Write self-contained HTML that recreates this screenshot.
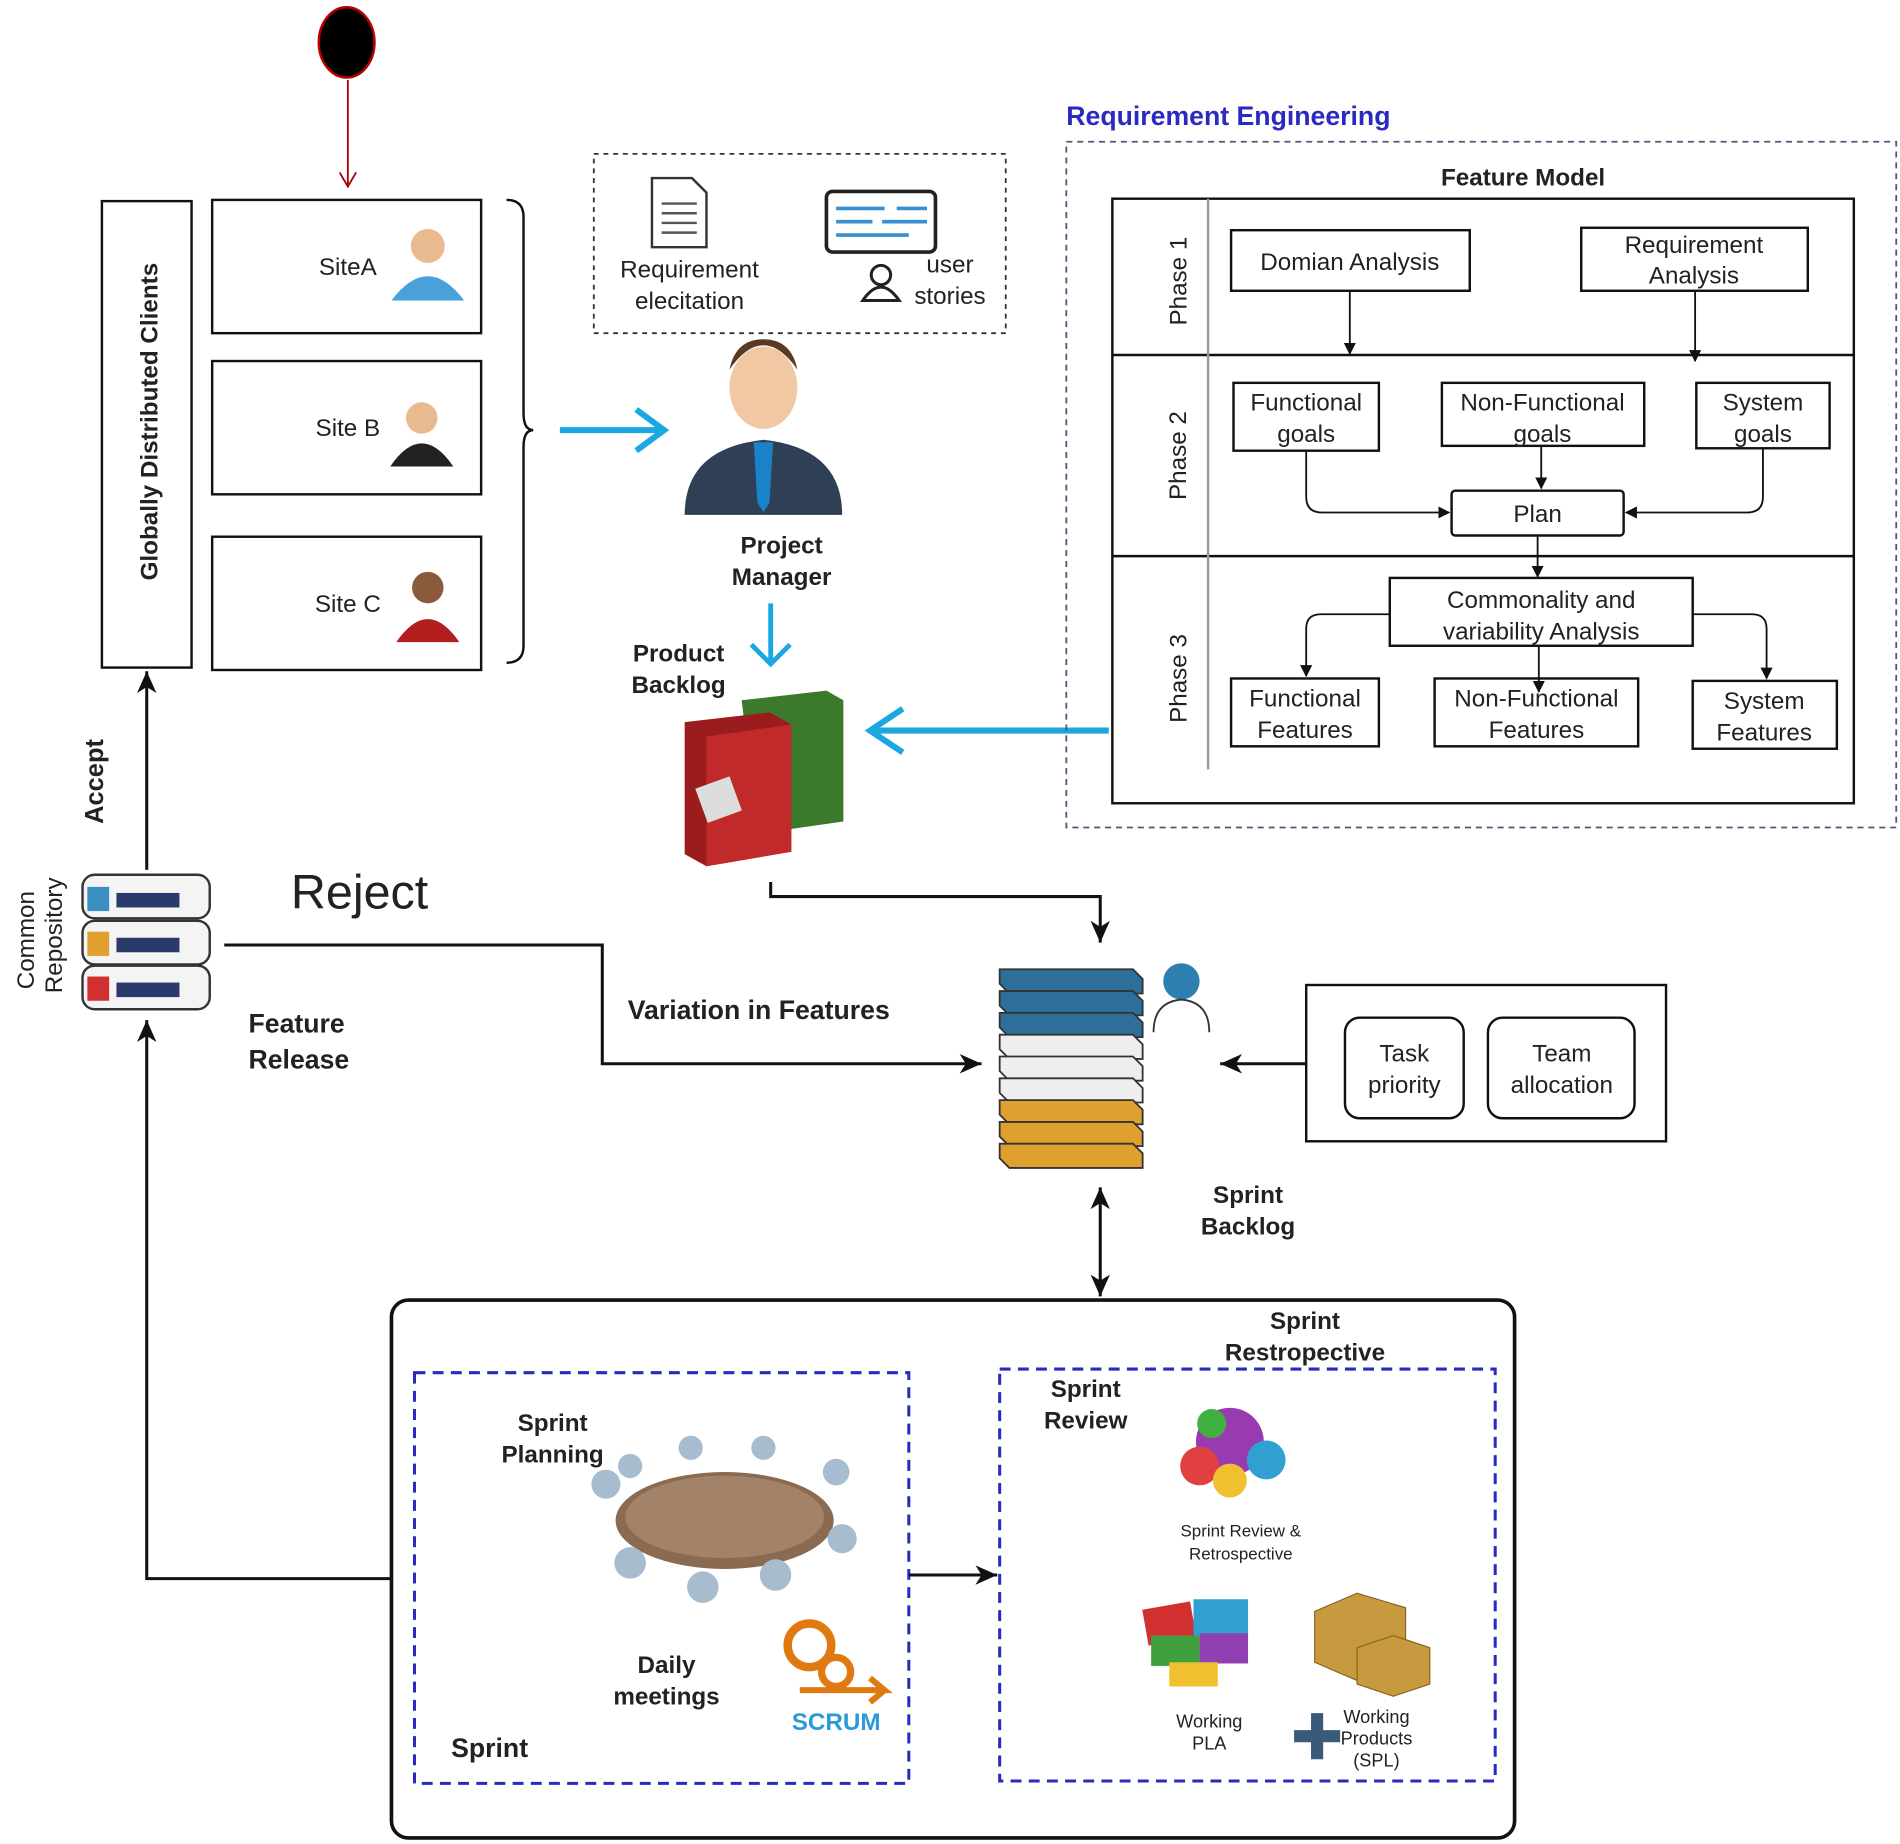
<!DOCTYPE html>
<html><head><meta charset="utf-8"><style>
html,body{margin:0;padding:0;background:#fff}
svg{display:block}
text{font-family:"Liberation Sans",Arial,sans-serif;fill:#222}
.b{font-weight:bold}
</style></head><body>
<svg width="1900" height="1844" viewBox="0 0 1568 1522" xmlns="http://www.w3.org/2000/svg">
<defs>
<marker id="a" markerWidth="10" markerHeight="10" refX="9" refY="5" orient="auto" markerUnits="userSpaceOnUse"><path d="M0,0 L10,5 L0,10 z" fill="#111"/></marker>
<marker id="a2" markerWidth="20" markerHeight="20" refX="18" refY="10" orient="auto-start-reverse" markerUnits="userSpaceOnUse"><path d="M0,2 L18,10 L0,18 L5,10z" fill="#111"/></marker>
<marker id="r" markerWidth="14" markerHeight="14" refX="12" refY="7" orient="auto" markerUnits="userSpaceOnUse"><path d="M0,0 L12,7 L0,14" fill="none" stroke="#a00" stroke-width="1.5"/></marker>
</defs>
<!-- start -->
<ellipse cx="286" cy="35" rx="23" ry="29" fill="#000" stroke="#b00" stroke-width="2"/>
<line x1="287" y1="66" x2="287" y2="154" stroke="#a00" stroke-width="1.5" marker-end="url(#r)"/>
<!-- clients -->
<rect x="84" y="166" width="74" height="385" fill="none" stroke="#111" stroke-width="2"/>
<text class="b" font-size="20" transform="translate(130,348) rotate(-90)" text-anchor="middle">Globally Distributed Clients</text>
<g fill="none" stroke="#111" stroke-width="2">
<rect x="175" y="165" width="222" height="110"/><rect x="175" y="298" width="222" height="110"/><rect x="175" y="443" width="222" height="110"/>
<path d="M418,165 q14,0 14,14 v162 q0,14 8,14 q-8,0 -8,14 v164 q0,14 -14,14"/>
</g>
<text x="287" y="227" font-size="20" text-anchor="middle">SiteA</text>
<text x="287" y="360" font-size="20" text-anchor="middle">Site B</text>
<text x="287" y="505" font-size="20" text-anchor="middle">Site C</text>
<g><circle cx="353" cy="203" r="14" fill="#e9b98f"/><path d="M323,248 q30,-40 60,0z" fill="#4aa0d8"/><circle cx="348" cy="345" r="13" fill="#e9b98f"/><path d="M322,385 q26,-38 52,0z" fill="#222"/><circle cx="353" cy="485" r="13" fill="#8b5a3c"/><path d="M327,530 q26,-38 52,0z" fill="#b21e1e"/></g>
<!-- blue arrow -->
<path d="M462,355 H545 M525,338 L548,355 L525,372" stroke="#1ba7e0" stroke-width="5" fill="none"/>
<!-- req dashed -->
<rect x="490" y="127" width="340" height="148" fill="none" stroke="#333" stroke-width="1.5" stroke-dasharray="4,4"/>
<path d="M538,147 h33 l12,12 v45 h-45z" fill="#fff" stroke="#333" stroke-width="2"/>
<g stroke="#555" stroke-width="2"><line x1="546" y1="168" x2="575" y2="168"/><line x1="546" y1="176" x2="575" y2="176"/><line x1="546" y1="184" x2="575" y2="184"/><line x1="546" y1="192" x2="575" y2="192"/></g>
<text x="569" y="229" font-size="20" text-anchor="middle">Requirement</text><text x="569" y="255" font-size="20" text-anchor="middle">elecitation</text>
<rect x="682" y="158" width="90" height="50" rx="5" fill="#fff" stroke="#222" stroke-width="3"/>
<g stroke="#3a8fd0" stroke-width="3"><line x1="690" y1="172" x2="730" y2="172"/><line x1="740" y1="172" x2="765" y2="172"/><line x1="690" y1="183" x2="720" y2="183"/><line x1="728" y1="183" x2="765" y2="183"/><line x1="690" y1="194" x2="750" y2="194"/></g>
<circle cx="727" cy="227" r="8" fill="none" stroke="#222" stroke-width="2.5"/><path d="M712,248 q15,-22 30,0z" fill="none" stroke="#222" stroke-width="2.5"/>
<text x="784" y="225" font-size="20" text-anchor="middle">user</text><text x="784" y="251" font-size="20" text-anchor="middle">stories</text>
<!-- PM -->
<ellipse cx="630" cy="320" rx="28" ry="34" fill="#f2c7a4"/><path d="M602,305 q28,-40 56,0 q-5,-25 -28,-25 q-23,0 -28,25z" fill="#5a3a22"/>
<path d="M565,425 q0,-55 65,-62 q65,7 65,62z" fill="#2f3f55"/><path d="M622,365 h16 l-3,50 l-5,8 l-5,-8z" fill="#1a82c8"/>
<text class="b" x="645" y="457" font-size="20" text-anchor="middle">Project</text><text class="b" x="645" y="483" font-size="20" text-anchor="middle">Manager</text>
<path d="M636,498 V546 M620,532 L636,548 L652,532" stroke="#1ba7e0" stroke-width="4" fill="none"/>
<text class="b" x="560" y="546" font-size="20" text-anchor="middle">Product</text><text class="b" x="560" y="572" font-size="20" text-anchor="middle">Backlog</text>
<path d="M612,578 l70,-8 l14,8 v100 l-70,10z" fill="#3a7a2a"/><path d="M565,596 l70,-8 l18,10 v105 l-70,12 l-18,-10z" fill="#9b1c1c"/><path d="M583,608 l70,-10 v105 l-70,12z" fill="#c02a2a"/>
<rect x="578" y="645" width="30" height="30" fill="#ddd" transform="rotate(-20 593 660)"/>
<path d="M915,603 H722 M745,585 L718,603 L745,621" stroke="#1ba7e0" stroke-width="5" fill="none"/>
<!-- Req Eng -->
<text class="b" x="880" y="103" font-size="22" fill="#2a2ac0" style="fill:#2a2ac0">Requirement Engineering</text>
<rect x="880" y="117" width="685" height="566" fill="none" stroke="#557" stroke-width="1.5" stroke-dasharray="5,4"/>
<text class="b" x="1257" y="153" font-size="20" text-anchor="middle">Feature Model</text>
<rect x="918" y="164" width="612" height="499" fill="none" stroke="#111" stroke-width="2"/>
<line x1="918" y1="293" x2="1530" y2="293" stroke="#111" stroke-width="2"/><line x1="918" y1="459" x2="1530" y2="459" stroke="#111" stroke-width="2"/>
<line x1="997" y1="164" x2="997" y2="635" stroke="#999" stroke-width="2"/>
<text x="972" y="232" font-size="20" text-anchor="middle" transform="rotate(-90 972 232)" dy="7">Phase 1</text>
<text x="972" y="376" font-size="20" text-anchor="middle" transform="rotate(-90 972 376)" dy="7">Phase 2</text>
<text x="972" y="560" font-size="20" text-anchor="middle" transform="rotate(-90 972 560)" dy="7">Phase 3</text>
<g fill="#fff" stroke="#111" stroke-width="2">
<rect x="1016" y="190" width="197" height="50"/><rect x="1305" y="188" width="187" height="52"/>
<rect x="1018" y="316" width="120" height="56"/><rect x="1190" y="316" width="167" height="52"/><rect x="1400" y="316" width="110" height="54"/>
<rect x="1198" y="405" width="142" height="37" rx="3"/>
<rect x="1147" y="477" width="250" height="56"/>
<rect x="1016" y="560" width="122" height="56"/><rect x="1184" y="560" width="168" height="56"/><rect x="1397" y="562" width="119" height="56"/>
</g>
<g font-size="20" text-anchor="middle">
<text x="1114" y="223">Domian Analysis</text><text x="1398" y="209">Requirement</text><text x="1398" y="234">Analysis</text>
<text x="1078" y="339">Functional</text><text x="1078" y="365">goals</text>
<text x="1273" y="339">Non-Functional</text><text x="1273" y="365">goals</text>
<text x="1455" y="339">System</text><text x="1455" y="365">goals</text>
<text x="1269" y="431">Plan</text>
<text x="1272" y="502">Commonality and</text><text x="1272" y="528">variability Analysis</text>
<text x="1077" y="583">Functional</text><text x="1077" y="609">Features</text>
<text x="1268" y="583">Non-Functional</text><text x="1268" y="609">Features</text>
<text x="1456" y="585">System</text><text x="1456" y="611">Features</text>
</g>
<g fill="none" stroke="#111" stroke-width="1.5" marker-end="url(#a)">
<line x1="1114" y1="240" x2="1114" y2="292"/><line x1="1399" y1="240" x2="1399" y2="298"/>
<path d="M1078,372 V410 q0,13 13,13 H1196"/><path d="M1455,370 V410 q0,13 -13,13 H1342"/>
<line x1="1272" y1="368" x2="1272" y2="403"/><line x1="1269" y1="442" x2="1269" y2="476"/>
<path d="M1147,507 H1090 q-12,0 -12,12 V558"/><path d="M1397,507 H1446 q12,0 12,12 V560"/><line x1="1270" y1="533" x2="1270" y2="571"/>
</g>
<!-- common repo -->
<g>
<rect x="68" y="722" width="105" height="36" rx="10" fill="#f4f4f4" stroke="#333" stroke-width="2"/><rect x="68" y="760" width="105" height="36" rx="10" fill="#f4f4f4" stroke="#333" stroke-width="2"/><rect x="68" y="797" width="105" height="36" rx="10" fill="#f4f4f4" stroke="#333" stroke-width="2"/>
<rect x="72" y="732" width="18" height="20" fill="#3a8fc0"/><rect x="72" y="769" width="18" height="20" fill="#e0a030"/><rect x="72" y="806" width="18" height="20" fill="#d03030"/>
<g fill="#2a3a6a"><rect x="96" y="737" width="52" height="12"/><rect x="96" y="774" width="52" height="12"/><rect x="96" y="811" width="52" height="12"/></g>
</g>
<text font-size="20" transform="translate(22,776) rotate(-90)" text-anchor="middle" dy="6">Common</text>
<text font-size="20" transform="translate(45,772) rotate(-90)" text-anchor="middle" dy="6">Repository</text>
<text class="b" font-size="21" transform="translate(78,645) rotate(-90)" text-anchor="middle" dy="7">Accept</text>
<line x1="121" y1="718" x2="121" y2="554" stroke="#111" stroke-width="2.5" marker-end="url(#a2)"/>
<text x="240" y="750" font-size="40">Reject</text>
<path d="M185,780 H497 V878 H810" fill="none" stroke="#111" stroke-width="2.5" marker-end="url(#a2)"/>
<text class="b" x="518" y="841" font-size="22">Variation in Features</text>
<text class="b" x="205" y="852" font-size="22">Feature</text><text class="b" x="205" y="882" font-size="22">Release</text>
<path d="M636,728 V740 H908 V778" fill="none" stroke="#111" stroke-width="2.5" marker-end="url(#a2)"/>
<!-- sprint backlog stack -->
<g stroke="#333" stroke-width="1.5">
<path d="M825,800 h110 l8,8 v12 h-110 l-8,-8z" fill="#2d6f9a"/><path d="M825,818 h110 l8,8 v12 h-110 l-8,-8z" fill="#2d6f9a"/><path d="M825,836 h110 l8,8 v12 h-110 l-8,-8z" fill="#2d6f9a"/>
<path d="M825,854 h110 l8,8 v12 h-110 l-8,-8z" fill="#eee"/><path d="M825,872 h110 l8,8 v12 h-110 l-8,-8z" fill="#eee"/><path d="M825,890 h110 l8,8 v12 h-110 l-8,-8z" fill="#eee"/>
<path d="M825,908 h110 l8,8 v12 h-110 l-8,-8z" fill="#e0a030"/><path d="M825,926 h110 l8,8 v12 h-110 l-8,-8z" fill="#e0a030"/><path d="M825,944 h110 l8,8 v12 h-110 l-8,-8z" fill="#e0a030"/>
</g>
<circle cx="975" cy="810" r="15" fill="#2d7fb0"/><path d="M952,852 q0,-25 23,-27 q23,2 23,27" fill="none" stroke="#333" stroke-width="1.5"/>
<rect x="1078" y="813" width="297" height="129" fill="none" stroke="#111" stroke-width="2"/>
<rect x="1110" y="840" width="98" height="83" rx="12" fill="none" stroke="#111" stroke-width="2"/><rect x="1228" y="840" width="121" height="83" rx="12" fill="none" stroke="#111" stroke-width="2"/>
<text x="1159" y="876" font-size="20" text-anchor="middle">Task</text><text x="1159" y="902" font-size="20" text-anchor="middle">priority</text>
<text x="1289" y="876" font-size="20" text-anchor="middle">Team</text><text x="1289" y="902" font-size="20" text-anchor="middle">allocation</text>
<line x1="1078" y1="878" x2="1007" y2="878" stroke="#111" stroke-width="2.5" marker-end="url(#a2)"/>
<text class="b" x="1030" y="993" font-size="20" text-anchor="middle">Sprint</text><text class="b" x="1030" y="1019" font-size="20" text-anchor="middle">Backlog</text>
<line x1="908" y1="980" x2="908" y2="1070" stroke="#111" stroke-width="2.5" marker-start="url(#a2)" marker-end="url(#a2)"/>
<!-- sprint big box -->
<rect x="323" y="1073" width="927" height="444" rx="14" fill="none" stroke="#111" stroke-width="3"/>
<rect x="342" y="1133" width="408" height="339" fill="none" stroke="#2a2ac0" stroke-width="2.5" stroke-dasharray="9,6"/>
<text class="b" x="456" y="1181" font-size="20" text-anchor="middle">Sprint</text><text class="b" x="456" y="1207" font-size="20" text-anchor="middle">Planning</text>
<ellipse cx="598" cy="1255" rx="90" ry="40" fill="#8a6a50"/><ellipse cx="598" cy="1252" rx="82" ry="34" fill="#a3826a"/>
<g fill="#a8bcd0"><circle cx="500" cy="1225" r="12"/><circle cx="520" cy="1290" r="13"/><circle cx="580" cy="1310" r="13"/><circle cx="640" cy="1300" r="13"/><circle cx="695" cy="1270" r="12"/><circle cx="690" cy="1215" r="11"/><circle cx="630" cy="1195" r="10"/><circle cx="570" cy="1195" r="10"/><circle cx="520" cy="1210" r="10"/></g>
<text class="b" x="550" y="1381" font-size="20" text-anchor="middle">Daily</text><text class="b" x="550" y="1407" font-size="20" text-anchor="middle">meetings</text>
<circle cx="668" cy="1358" r="18" fill="none" stroke="#e07a10" stroke-width="7"/><circle cx="690" cy="1380" r="12" fill="none" stroke="#e07a10" stroke-width="6"/><path d="M660,1395 H730 L718,1385 M730,1395 L718,1405" stroke="#e07a10" stroke-width="5" fill="none"/>
<text class="b" x="690" y="1428" font-size="20" text-anchor="middle" style="fill:#2a9ad8">SCRUM</text>
<text class="b" x="404" y="1450" font-size="22" text-anchor="middle">Sprint</text>
<line x1="750" y1="1300" x2="823" y2="1300" stroke="#111" stroke-width="2.5" marker-end="url(#a2)"/>
<rect x="825" y="1130" width="409" height="340" fill="none" stroke="#2a2ac0" stroke-width="2.5" stroke-dasharray="9,6"/>
<text class="b" x="1077" y="1097" font-size="20" text-anchor="middle">Sprint</text><text class="b" x="1077" y="1123" font-size="20" text-anchor="middle">Restropective</text>
<text class="b" x="896" y="1153" font-size="20" text-anchor="middle">Sprint</text><text class="b" x="896" y="1179" font-size="20" text-anchor="middle">Review</text>
<g><circle cx="1015" cy="1190" r="28" fill="#9a3ab0"/><circle cx="990" cy="1210" r="16" fill="#e04040"/><circle cx="1045" cy="1205" r="16" fill="#30a0d0"/><circle cx="1015" cy="1222" r="14" fill="#f0c030"/><circle cx="1000" cy="1175" r="12" fill="#40b040"/></g>
<text x="1024" y="1268" font-size="14" text-anchor="middle">Sprint Review &amp;</text><text x="1024" y="1287" font-size="14" text-anchor="middle">Retrospective</text>
<g><rect x="945" y="1325" width="40" height="30" fill="#d03030" transform="rotate(-10 965 1340)"/><rect x="985" y="1320" width="45" height="30" fill="#30a0d0"/><rect x="950" y="1350" width="40" height="25" fill="#40a040"/><rect x="990" y="1348" width="40" height="25" fill="#9040b0"/><rect x="965" y="1372" width="40" height="20" fill="#f0c030"/></g>
<g fill="#c89a40" stroke="#8a6520"><path d="M1085,1330 l35,-15 l40,12 v45 l-40,15 l-35,-15z"/><path d="M1120,1360 l30,-10 l30,10 v30 l-30,10 l-30,-10z"/></g>
<text x="998" y="1426" font-size="15" text-anchor="middle">Working</text><text x="998" y="1444" font-size="15" text-anchor="middle">PLA</text>
<path d="M1068,1428 h14 v-14 h10 v14 h14 v10 h-14 v14 h-10 v-14 h-14z" fill="#3a5a7a"/>
<text x="1136" y="1422" font-size="15" text-anchor="middle">Working</text><text x="1136" y="1440" font-size="15" text-anchor="middle">Products</text><text x="1136" y="1458" font-size="15" text-anchor="middle">(SPL)</text>
<path d="M323,1303 H121 V842" fill="none" stroke="#111" stroke-width="2.5" marker-end="url(#a2)"/>
</svg>
</body></html>
